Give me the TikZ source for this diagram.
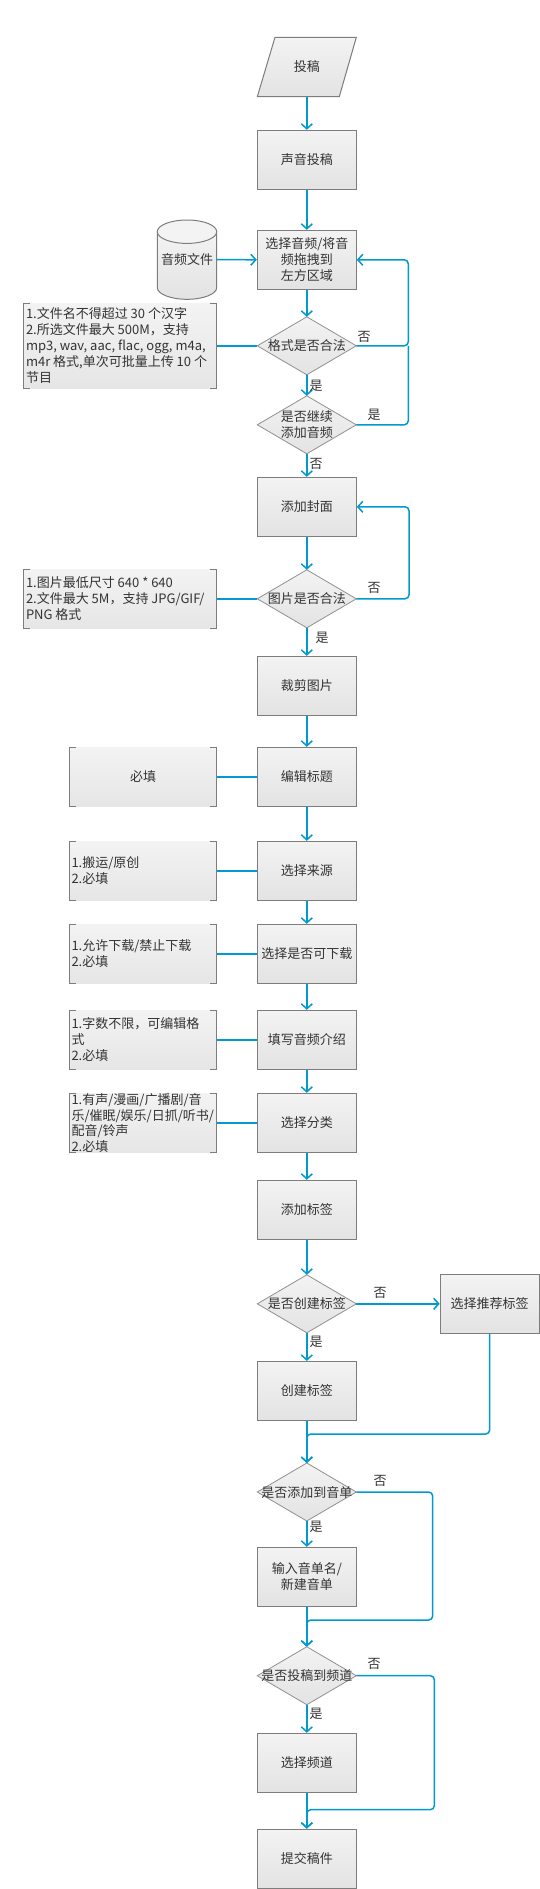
\documentclass[tikz,border=0pt]{standalone}
\usepackage{fontspec}
\setmainfont{Noto Sans CJK SC}
\usetikzlibrary{arrows.meta,shapes.geometric,calc}
\definecolor{cblue}{RGB}{0,154,206}
\definecolor{bord}{RGB}{125,125,125}
\definecolor{txt}{RGB}{51,51,51}
\definecolor{ftop}{RGB}{243,243,243}
\definecolor{fbot}{RGB}{227,227,227}
\begin{document}
\begin{tikzpicture}[x=1pt,y=-1pt,
  font=\fontsize{13}{16}\selectfont, text=txt,
  box/.style={rectangle, draw=bord, line width=1pt, top color=ftop, bottom color=fbot,
    minimum width=99pt, minimum height=59pt, inner sep=1pt, align=center},
  dia/.style={diamond, draw=bord!85, line width=0.8pt, top color=ftop, bottom color=fbot,
    minimum width=99pt, minimum height=58pt, inner sep=0pt, outer sep=0pt},
  notebox/.style={rectangle, draw=none, top color=ftop, bottom color=fbot!90,
    minimum height=59pt, inner sep=0pt, outer sep=0pt},
  notetxt/.style={anchor=west, align=left, inner sep=0pt},
  arr/.style={draw=cblue, line width=1.5pt, -{Straight Barb[length=5pt,width=11pt]}},
  con/.style={draw=cblue, line width=1.5pt},
  lbl/.style={inner sep=0pt},
  brk/.style={draw=bord, line width=1pt},
  inv/.style={inner sep=0pt, outer sep=0pt, align=center},
]
\fill[white] (0,0) rectangle (540,1889);
\useasboundingbox (0,0) rectangle (540,1889);

% start parallelogram
\path[draw=bord, line width=1pt, top color=ftop, bottom color=fbot]
  (257.3,96.7) -- (275,37.3) -- (356.3,37.3) -- (339.3,96.7) -- cycle;
\node[inv, minimum width=99pt, minimum height=59.4pt] (p1) at (306.8,67) {投稿};

% cylinder
\path[draw=bord, line width=1pt, top color=ftop, bottom color=fbot]
  (157.3,231.7) -- (157.3,287.6)
  .. controls (157.3,294.06) and (170.6,299.3) .. (187,299.3)
  .. controls (203.4,299.3) and (216.7,294.06) .. (216.7,287.6)
  -- (216.7,231.7) -- cycle;
\path[draw=bord, line width=1pt, fill=ftop] (187,231.7) ellipse [x radius=29.7pt, y radius=11.7pt];
\node[inv, minimum width=59.4pt, minimum height=79.3pt] (cyl) at (187,259.7) {音频文件};

% main boxes
\node[box] (b1) at (306.8,159.8) {声音投稿};
\node[box] (b2) at (306.8,259.8) {选择音频/将音\\频拖拽到\\左方区域};
\node[dia] (d1) at (306.8,345.8) {};
\node[inv] at (d1) {格式是否合法};
\node[dia] (d2) at (306.8,424.8) {};
\node[inv] at (d2) {是否继续\\添加音频};
\node[box] (b3) at (306.8,506.8) {添加封面};
\node[dia] (d3) at (306.8,598.8) {};
\node[inv] at (d3) {图片是否合法};
\node[box] (b4) at (306.8,685.8) {裁剪图片};
\node[box] (b5) at (306.8,776.8) {编辑标题};
\node[box] (b6) at (306.8,870.8) {选择来源};
\node[box] (b7) at (306.8,953.8) {选择是否可下载};
\node[box] (b8) at (306.8,1039.8) {填写音频介绍};
\node[box] (b9) at (306.8,1122.8) {选择分类};
\node[box] (b10) at (306.8,1209.8) {添加标签};
\node[dia] (d4) at (306.8,1303.8) {};
\node[inv] at (d4) {是否创建标签};
\node[box] (b11) at (489.7,1303.8) {选择推荐标签};
\node[box] (b12) at (306.8,1390.9) {创建标签};
\node[dia] (d5) at (306.8,1492) {};
\node[inv] at (d5) {是否添加到音单};
\node[box] (b13) at (306.8,1576.8) {输入音单名/\\新建音单};
\node[dia] (d6) at (306.8,1675.7) {};
\node[inv] at (d6) {是否投稿到频道};
\node[box] (b14) at (306.8,1762.8) {选择频道};
\node[box] (b15) at (306.8,1858.7) {提交稿件};

% notes
\node[notebox, minimum width=193.4pt, minimum height=85pt] (n1) at (120,345.8) {};
\node[notetxt] at ([xshift=2.5pt]n1.west) {1.文件名不得超过 30 个汉字\\2.所选文件最大 500M，支持\\mp3, wav, aac, flac, ogg, m4a,\\m4r 格式,单次可批量上传 10 个\\节目};
\node[notebox, minimum width=193.4pt] (n2) at (120,598.8) {};
\node[notetxt] at ([xshift=2.5pt]n2.west) {1.图片最低尺寸 640 * 640\\2.文件最大 5M，支持 JPG/GIF/\\PNG 格式};
\node[notebox, minimum width=147.4pt] (n3) at (143,776.8) {};
\node[inv] at (n3) {必填};
\node[notebox, minimum width=147.4pt] (n4) at (143,870.8) {};
\node[notetxt] at ([xshift=2pt]n4.west) {1.搬运/原创\\2.必填};
\node[notebox, minimum width=147.4pt] (n5) at (143,953.8) {};
\node[notetxt] at ([xshift=2pt]n5.west) {1.允许下载/禁止下载\\2.必填};
\node[notebox, minimum width=147.4pt] (n6) at (143,1039.8) {};
\node[notetxt] at ([xshift=2pt]n6.west) {1.字数不限，可编辑格\\式\\2.必填};
\node[notebox, minimum width=147.4pt] (n7) at (143,1122.8) {};
\node[notetxt, font=\fontsize{13}{15.5}\selectfont] at ([xshift=2pt]n7.west) {1.有声/漫画/广播剧/音\\乐/催眠/娱乐/日抓/听书/\\配音/铃声\\2.必填};

\foreach \n in {n1,n2,n3,n4,n5,n6,n7}{
  \draw[brk] ([xshift=7pt]\n.north west) -- (\n.north west) -- (\n.south west) -- ([xshift=7pt]\n.south west);
  \draw[brk] ([xshift=-7pt]\n.north east) -- (\n.north east) -- (\n.south east) -- ([xshift=-7pt]\n.south east);
}

% connectors
\draw[arr] (p1) -- (b1);
\draw[arr] (b1) -- (b2);
\draw[arr] (cyl) -- (b2);
\draw[arr] (b2) -- (d1);
\draw[con] (n1) -- (d1);
\coordinate (r1) at (408.3,0);
\draw[arr, rounded corners=4pt] (d1.east) -- (d1.east -| r1) -- (b2.east -| r1) -- (b2.east);
\draw[con, rounded corners=4pt] (d2.east) -- (d2.east -| r1) -- (d1.east -| r1);
\draw[arr] (d1) -- (d2);
\draw[arr] (d2) -- (b3);
\draw[arr] (b3) -- (d3);
\draw[con] (n2) -- (d3);
\coordinate (r4) at (409,0);
\draw[arr, rounded corners=4pt] (d3.east) -- (d3.east -| r4) -- (b3.east -| r4) -- (b3.east);
\draw[arr] (d3) -- (b4);
\draw[arr] (b4) -- (b5);
\draw[arr] (b5) -- (b6);
\draw[arr] (b6) -- (b7);
\draw[arr] (b7) -- (b8);
\draw[arr] (b8) -- (b9);
\draw[arr] (b9) -- (b10);
\draw[con] (n3) -- (b5);
\draw[con] (n4) -- (b6);
\draw[con] (n5) -- (b7);
\draw[con] (n6) -- (b8);
\draw[con] (n7) -- (b9);
\draw[arr] (b10) -- (d4);
\draw[arr] (d4) -- (b11);
\draw[arr] (d4) -- (b12);
\coordinate (m1) at (306.8,1434);
\draw[arr, rounded corners=4pt] (b11.south) -- (b11.south |- m1) -- (m1) -- (d5.north);
\draw[arr] (b12) -- (d5);
\draw[arr] (d5) -- (b13);
\coordinate (r2) at (432.7,1620);
\draw[arr, rounded corners=4pt] (d5.east) -- (d5.east -| r2) -- (r2) -- (r2 -| d6.north) -- (d6.north);
\draw[arr] (b13) -- (d6);
\draw[arr] (d6) -- (b14);
\coordinate (r3) at (434.3,1809.7);
\draw[arr, rounded corners=4pt] (d6.east) -- (d6.east -| r3) -- (r3) -- (r3 -| b15.north) -- (b15.north);
\draw[arr] (b14) -- (b15);

% labels
\node[lbl] at (364,337) {否};
\node[lbl] at (316,386) {是};
\node[lbl] at (374,415) {是};
\node[lbl] at (316,464) {否};
\node[lbl] at (374,587.5) {否};
\node[lbl] at (322,637.5) {是};
\node[lbl] at (380,1293) {否};
\node[lbl] at (316,1342) {是};
\node[lbl] at (380,1481) {否};
\node[lbl] at (316,1527) {是};
\node[lbl] at (374,1664) {否};
\node[lbl] at (316,1714) {是};
\end{tikzpicture}
\end{document}
